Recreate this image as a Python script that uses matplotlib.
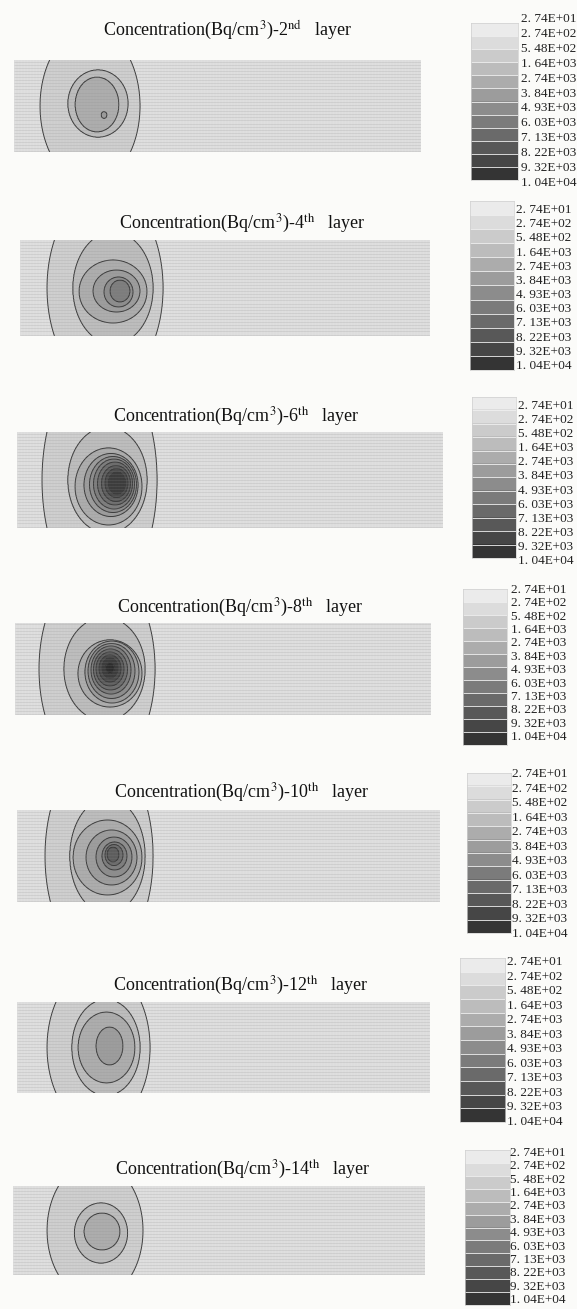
import numpy as np
import matplotlib
matplotlib.use('Agg')
import matplotlib.pyplot as plt
from matplotlib.colors import ListedColormap, BoundaryNorm, to_rgb

plt.rcParams['mathtext.fontset'] = 'stix'

# contour levels shown in every legend (Bq/cm3)
levels = [27.4, 274, 548, 1640, 2740, 3840, 4930, 6030, 7130, 8220, 9320, 10400]
shades = ['#ebebeb', '#dcdcdc', '#cbcbcb', '#bcbcbc', '#acacac', '#9c9c9c',
          '#8c8c8c', '#7b7b7b', '#6a6a6a', '#585858', '#464646', '#343434']

layer_names = ['2nd', '4th', '6th', '8th', '10th', '12th', '14th']
peak = [2760, 5600, 9900, 10700, 7600, 3300, 2300]

# iso-concentration rings read off each layer, outer (274) to inner
# centre x / centre y (from top of domain) / half width / half height
ring_x = [[76, 84, 83, 90],
          [85, 93, 93, 96.5, 98.5, 100],
          [82.5, 90.5, 91.5, 94, 96, 97, 98, 99, 99.5, 100],
          [82, 89.5, 95, 97, 96.5, 96, 95.5, 95, 95, 95, 95],
          [82, 90.5, 90.5, 94.5, 97, 97.5, 97, 96],
          [81.5, 89, 89.5, 92.5],
          [82, 88, 89]]
ring_y = [[46, 43.5, 44.5, 55],
          [48, 48, 51.5, 51, 52, 51],
          [48, 48, 54.5, 53, 52.5, 52, 51.5, 51.5, 51, 51],
          [46, 46, 50.5, 49, 48, 47, 46.5, 46, 45.5, 45, 45],
          [46, 46, 47.5, 47.5, 47, 46, 45, 44.5],
          [45.5, 45.5, 45.5, 44],
          [44.5, 47, 45.5]]
ring_a = [[50, 30, 22, 3],
          [58, 40, 34, 23.5, 14.5, 10],
          [57.5, 39.5, 33.5, 27, 23.5, 20.5, 17.5, 14.5, 11.5, 8.5],
          [58, 40.5, 32, 27, 23.5, 20, 17, 14, 11, 8, 4.5],
          [54, 37.5, 34.5, 25.5, 18, 12.5, 9, 6],
          [51.5, 34, 28.5, 13.5],
          [48, 26.5, 18]]
ring_b = [[78, 33.5, 27.5, 3.5],
          [98, 56, 31.5, 21, 15, 11],
          [118, 53, 38.5, 31.5, 28, 25, 21.5, 18, 14.5, 11],
          [104, 51.7, 33.5, 31, 27.5, 24, 20.5, 17, 13.5, 10, 5.5],
          [105, 57.5, 37.5, 27.5, 20, 14, 10.5, 7.5],
          [80.5, 48, 35.5, 19],
          [68.5, 30, 18.5]]

# panel layout in pixels: title (x, y), plot (l, r, t, b), swatch (l, r, t, b), labels (x, t, b)
title_pos = [(228, 30), (242, 223), (236, 416), (240, 607), (242, 792), (241, 985), (243, 1169)]
plot_box = [(14, 421, 60, 152), (20, 430, 240, 336), (17, 443, 432, 528), (15, 431, 623, 715),
            (17, 440, 810, 902), (17, 430, 1002, 1093), (13, 425, 1186, 1275)]
swatch_box = [(471, 518, 23, 180), (470, 514, 201, 370), (472, 516, 397, 558), (463, 507, 589, 745),
              (467, 511, 773, 933), (460, 505, 958, 1122), (465, 510, 1150, 1305)]
label_pos = [(521, 19, 183), (516, 210, 366), (518, 406, 561), (511, 590, 737),
             (512, 774, 934), (507, 962, 1122), (510, 1153, 1300)]

W, H = 577, 1309


def concentration(X, Y, cx, cy, a, b, top):
    n = len(a)
    lv = levels[1:n + 1]
    E = np.array([np.sqrt(((X - cx[k]) / a[k]) ** 2 + ((Y - cy[k]) / b[k]) ** 2) for k in range(n)])
    inside = E <= 1
    j = np.where(inside.any(0), n - 1 - np.argmax(inside[::-1], axis=0), -1)
    V = lv[0] * np.minimum(1, 1 / E[0]) ** 2
    for k in range(n):
        m = j == k
        if k < n - 1:
            ej, en = E[k][m], E[k + 1][m]
            V[m] = lv[k] + (lv[k + 1] - lv[k]) * (1 - ej) / (en - ej)
        else:
            V[m] = lv[k] + (top - lv[k]) * (1 - E[k][m])
    return V


def fig_rect(l, r, t, b):
    return [l / W, 1 - b / H, (r - l) / W, (b - t) / H]


fig = plt.figure(figsize=(W / 100, H / 100), dpi=100)
fig.patch.set_facecolor('#fbfbf9')

cmap = ListedColormap(shades)
# the contour fills read a touch darker than the legend swatches
field_cmap = ListedColormap([tuple(f * c for c in to_rgb(s))
                             for f, s in zip(np.linspace(0.95, 0.85, len(shades)), shades)])
bounds = [0] + levels[1:] + [1e6]
norm = BoundaryNorm(bounds, cmap.N)
labels = [('%.2E' % v).replace('.', '. ') for v in levels]

for i in range(len(layer_names)):
    l, r, t, b = plot_box[i]
    w, h = r - l, b - t
    ax = fig.add_axes(fig_rect(l, r, t, b))
    xs = np.linspace(0, w, 900)
    ys = np.linspace(0, h, 220)
    X, Y = np.meshgrid(xs, ys)
    V = concentration(X, Y, ring_x[i], ring_y[i], ring_a[i], ring_b[i], peak[i])
    ax.contourf(X, Y, V, levels=bounds, cmap=field_cmap, norm=norm)
    ax.contour(X, Y, V, levels=levels[1:], colors='#3c3c3c', linewidths=0.7)
    # mesh of the model grid
    ax.hlines(np.arange(1.5, h, 3.1), 0, w, colors='#8a8a8a', linewidth=0.4, alpha=0.3)
    ax.vlines(np.arange(0, w, 3.0), 0, h, colors='#9a9a9a', linewidth=0.3, alpha=0.1)
    ax.set_xlim(0, w)
    ax.set_ylim(h, 0)
    ax.set_xticks([])
    ax.set_yticks([])
    for s in ax.spines.values():
        s.set_visible(False)

    tx, ty = title_pos[i]
    num, suf = layer_names[i][:-2], layer_names[i][-2:]
    fig.text(tx / W, 1 - ty / H,
             r'Concentration(Bq/cm$^{3}$)-' + num + r'$^{\mathrm{' + suf + r'}}$   layer',
             ha='center', va='center', fontsize=13, family='Liberation Serif', color='#111111')

    # legend column
    sl, sr, st, sb = swatch_box[i]
    lax = fig.add_axes(fig_rect(sl, sr, st, sb))
    lax.imshow(np.arange(len(shades))[:, None], cmap=cmap, aspect='auto',
               extent=[0, 1, len(shades), 0], interpolation='nearest')
    lax.hlines(np.arange(1, len(shades)), 0, 1, colors='#f0f0f0', linewidth=0.6)
    lax.set_xlim(0, 1)
    lax.set_ylim(len(shades), 0)
    lax.set_xticks([])
    lax.set_yticks([])
    for s in lax.spines.values():
        s.set_color('#cfcfcf')
        s.set_linewidth(0.5)

    lx, lt, lb = label_pos[i]
    for k, y in enumerate(np.linspace(lt, lb, len(labels))):
        fig.text(lx / W, 1 - y / H, labels[k], ha='left', va='center',
                 fontsize=9.5, family='Liberation Serif', color='#222222')

fig.savefig('out.png', dpi=100, facecolor=fig.get_facecolor())
